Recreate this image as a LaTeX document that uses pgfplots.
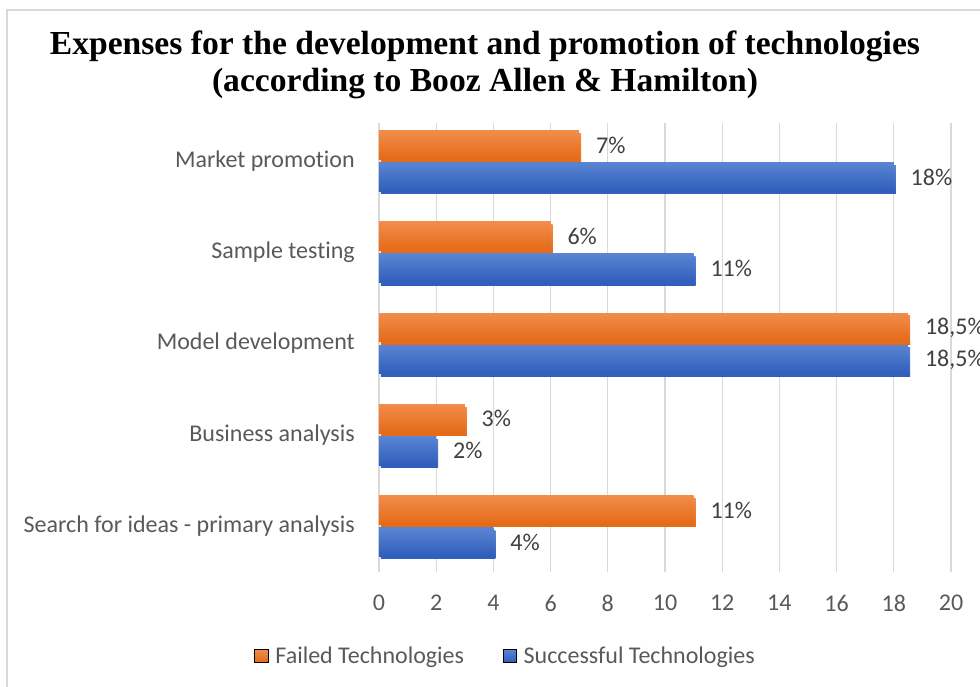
\documentclass[border=0pt]{standalone}
\usepackage{fontspec}
\setmainfont{Carlito}[Ligatures=NoCommon]
\newfontfamily\titlefont{Liberation Serif}
\usepackage{pgfplots}
\pgfplotsset{compat=1.18}

\definecolor{orangeTop}{HTML}{F28C4C}
\definecolor{orangeBot}{HTML}{E46A16}
\definecolor{blueTop}{HTML}{5A84D3}
\definecolor{blueBot}{HTML}{2F5EBB}
\definecolor{tickgray}{HTML}{595959}
\definecolor{labelgray}{HTML}{404040}
\definecolor{gridgray}{HTML}{D9D9D9}

\pgfplotsset{
  barbase/.style={xbar, bar width=21.4pt, draw=none, forget plot,
    preaction={fill=black!11, transform canvas={xshift=1.5pt, yshift=-2pt}}},
  failed/.style={barbase, bar shift=12pt, top color=orangeTop, bottom color=orangeBot},
  success/.style={barbase, bar shift=-12pt, top color=blueTop, bottom color=blueBot},
}

\begin{document}
\begin{tikzpicture}[x=0.75pt,y=0.75pt]
\useasboundingbox (-379,-114) rectangle (601,572);
% chart frame
\draw[black!15, line width=1.2pt] (-372,-140) rectangle (640,562);
% title
\node[font=\titlefont\bfseries\fontsize{25.2}{27.5}\selectfont, align=center]
  at (106,507) {Expenses for the development and promotion of technologies\\(according to Booz Allen \& Hamilton)};
\begin{axis}[
  at={(0,0)}, anchor=south west,
  scale only axis, width=429pt, height=336.75pt,
  xbar,
  xmin=0, xmax=20,
  ymin=-0.504, ymax=4.416,
  xtick={0,2,...,20},
  ytick={0,...,4},
  yticklabels={Search for ideas - primary analysis, Business analysis, Model development, Sample testing, Market promotion},
  axis line style={draw=none},
  major tick length=0pt,
  xmajorgrids,
  grid style={gridgray, line width=0.8pt},
  /pgf/number format/assume math mode=true,
  tick label style={font=\fontsize{18}{21}\selectfont, text=tickgray, inner sep=0pt},
  xticklabel style={anchor=north, yshift=-17pt},
  yticklabel style={anchor=east, xshift=-18pt},
  point meta=explicit symbolic,
  nodes near coords,
  nodes near coords style={font=\fontsize{18}{21}\selectfont, text=labelgray, anchor=west, inner sep=0pt, xshift=12.5pt},
  legend style={at={(0.222,-0.187)}, anchor=center, draw=none, fill=none,
    font=\fontsize{18}{21}\selectfont, text=tickgray,
    /tikz/every odd column/.append style={column sep=3.5pt},
    /tikz/every even column/.append style={column sep=27pt}},
  legend columns=2,
  legend image code/.code={\fill[#1] (0pt,-4.9pt) rectangle (9.8pt,4.9pt);},
]
\addlegendimage{top color=orangeTop, bottom color=orangeBot}
\addlegendentry{Failed Technologies}
\addlegendimage{top color=blueTop, bottom color=blueBot}
\addlegendentry{Successful Technologies}
% Failed Technologies
\addplot[failed] coordinates {(11,0) [11\%]};
\addplot[failed] coordinates {(3,1) [3\%]};
\addplot[failed] coordinates {(18.5,2) [18,5\%]};
\addplot[failed] coordinates {(6,3) [6\%]};
\addplot[failed] coordinates {(7,4) [7\%]};
% Successful Technologies
\addplot[success] coordinates {(4,0) [4\%]};
\addplot[success] coordinates {(2,1) [2\%]};
\addplot[success] coordinates {(18.5,2) [18,5\%]};
\addplot[success] coordinates {(11,3) [11\%]};
\addplot[success] coordinates {(18,4) [18\%]};
\end{axis}
\end{tikzpicture}
\end{document}
